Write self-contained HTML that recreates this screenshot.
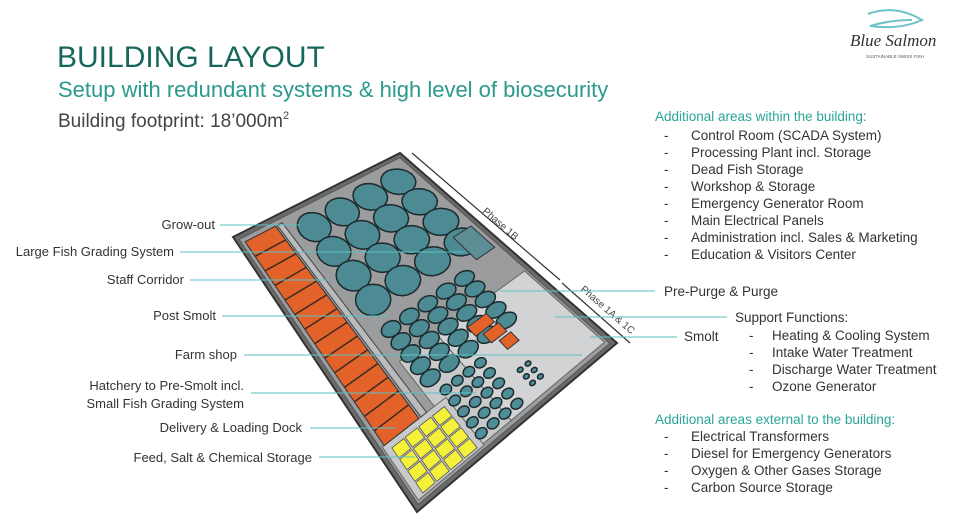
<!DOCTYPE html>
<html><head><meta charset="utf-8"><style>
body{margin:0;background:#fff;}
#w{position:relative;width:960px;height:520px;overflow:hidden;font-family:"Liberation Sans",sans-serif;}
svg{position:absolute;left:0;top:0}
</style></head><body><div id="w">
<svg id="s" width="960" height="520" viewBox="0 0 960 520" font-family="Liberation Sans, sans-serif">
<text x="57" y="67" font-size="30" fill="#17675c">BUILDING LAYOUT</text>
<text x="58" y="97" font-size="22" fill="#2a9a8a">Setup with redundant systems &amp; high level of biosecurity</text>
<text x="58" y="127" font-size="19" fill="#444">Building footprint: 18’000m<tspan font-size="11" dy="-8">2</tspan></text>
<g id="b"></g>
<g stroke="#333" stroke-width="1.2">
<line x1="412" y1="153" x2="560" y2="280"/><line x1="562" y1="283" x2="630" y2="343"/>
</g>
<text transform="translate(482,212) rotate(41)" font-size="10" fill="#444">Phase 1B</text>
<text transform="translate(580,290) rotate(41)" font-size="10" fill="#444">Phase 1A &amp; 1C</text>
<g stroke="#5bc2c6" stroke-width="1">
<line x1="220" y1="225" x2="300" y2="225"/><line x1="180" y1="252" x2="465" y2="252"/>
<line x1="190" y1="280" x2="330" y2="280"/><line x1="222" y1="316" x2="388" y2="316"/>
<line x1="244" y1="355" x2="582" y2="355"/><line x1="251" y1="393" x2="476" y2="393"/>
<line x1="310" y1="428" x2="396" y2="428"/><line x1="319" y1="457" x2="415" y2="457"/>
<line x1="500" y1="291" x2="655" y2="291"/><line x1="555" y1="317" x2="727" y2="317"/>
<line x1="590" y1="337" x2="677" y2="337"/>
</g>
<g font-size="13" fill="#333" text-anchor="end">
<text x="215" y="229">Grow-out</text><text x="174" y="256">Large Fish Grading System</text>
<text x="184" y="284">Staff Corridor</text><text x="216" y="320">Post Smolt</text>
<text x="237" y="359">Farm shop</text><text x="244" y="390">Hatchery to Pre-Smolt incl.</text>
<text x="244" y="408">Small Fish Grading System</text><text x="302" y="432">Delivery &amp; Loading Dock</text>
<text x="312" y="462">Feed, Salt &amp; Chemical Storage</text>
</g>
<g font-size="13.5" fill="#333">
<text x="655" y="121" fill="#2aa597">Additional areas within the building:</text>
<text x="664" y="140">-</text><text x="691" y="140">Control Room (SCADA System)</text>
<text x="664" y="157">-</text><text x="691" y="157">Processing Plant incl. Storage</text>
<text x="664" y="174">-</text><text x="691" y="174">Dead Fish Storage</text>
<text x="664" y="191">-</text><text x="691" y="191">Workshop &amp; Storage</text>
<text x="664" y="208">-</text><text x="691" y="208">Emergency Generator Room</text>
<text x="664" y="225">-</text><text x="691" y="225">Main Electrical Panels</text>
<text x="664" y="242">-</text><text x="691" y="242">Administration incl. Sales &amp; Marketing</text>
<text x="664" y="259">-</text><text x="691" y="259">Education &amp; Visitors Center</text>
<text x="664" y="296">Pre-Purge &amp; Purge</text>
<text x="735" y="322">Support Functions:</text>
<text x="684" y="341">Smolt</text>
<text x="749" y="340">-</text><text x="772" y="340">Heating &amp; Cooling System</text>
<text x="749" y="357">-</text><text x="772" y="357">Intake Water Treatment</text>
<text x="749" y="374">-</text><text x="772" y="374">Discharge Water Treatment</text>
<text x="749" y="391">-</text><text x="772" y="391">Ozone Generator</text>
<text x="655" y="424" fill="#2aa597">Additional areas external to the building:</text>
<text x="664" y="441">-</text><text x="691" y="441">Electrical Transformers</text>
<text x="664" y="458">-</text><text x="691" y="458">Diesel for Emergency Generators</text>
<text x="664" y="475">-</text><text x="691" y="475">Oxygen &amp; Other Gases Storage</text>
<text x="664" y="492">-</text><text x="691" y="492">Carbon Source Storage</text>
</g>
<path d="M868 14 Q895 4 922 20 Q900 30 870 26 Q890 20 912 20" fill="none" stroke="#6fc3c8" stroke-width="2"/>
<text x="850" y="46" font-family="Liberation Serif, serif" font-style="italic" font-size="17" fill="#333">Blue Salmon</text>
<text x="866" y="58" font-size="4.5" fill="#555">SUSTAINABLE SWISS FISH</text>
</svg>
<script>
var L=[233,237],B=[417,512],R=[617,343],T=[400,153];
function P(u,v){var a=(1-u)*(1-v),b=u*(1-v),c=u*v,d=(1-u)*v;return[a*L[0]+b*B[0]+c*R[0]+d*T[0],a*L[1]+b*B[1]+c*R[1]+d*T[1]];}
var g=document.getElementById('b'),h='';
function poly(pts,f,s,w){h+='<polygon points="'+pts.map(function(p){return p[0].toFixed(1)+','+p[1].toFixed(1)}).join(' ')+'" fill="'+f+'" stroke="'+(s||'none')+'" stroke-width="'+(w||1)+'"/>';}
function rect(u0,u1,v0,v1,f,s,w){poly([P(u0,v0),P(u1,v0),P(u1,v1),P(u0,v1)],f,s,w);}
function circ(u,v,ru,rv,f){var p=[];for(var i=0;i<20;i++){var a=i/20*Math.PI*2;p.push(P(u+ru*Math.cos(a),v+rv*Math.sin(a)));}poly(p,f,'#1c2a2c',1.5);}
rect(0,1,0,1,'#6a6a6a','#333',2);
rect(0.015,0.985,0.02,0.98,'#9a9c9e','#555',1);
rect(0.6,0.97,0.5,0.97,'#d2d3d4','#666',1);
rect(0.6,0.97,0.3,0.5,'#c8c9ca','#666',1);
rect(0.78,0.975,0.03,0.36,'#c8c9ca','#666',1);
rect(0.03,0.78,0.04,0.22,'#e2622a','#333',1);
for(var i=1;i<14;i++){var u=0.03+i*0.75/14;poly([P(u,0.04),P(u,0.22)],'none','#3a2a20',1.5);}
rect(0.03,0.78,0.23,0.26,'#b9bbbc','#444',1);
for(var i=0;i<4;i++)for(var j=0;j<4;j++){var u0=0.8+i*0.043,v0=0.06+j*0.07;rect(u0,u0+0.038,v0,v0+0.062,'#f5f03a','#555',0.8);}
for(var i=0;i<4;i++)for(var j=0;j<4;j++){circ(0.09+i*0.1,0.38+j*0.165,0.052,0.08,'#4c8a94');}
rect(0.36,0.47,0.86,0.96,'#5d8e96','#333',1);
for(var i=0;i<5;i++)for(var j=0;j<5;j++){circ(0.5+i*0.05,0.36+j*0.1,0.025,0.046,'#4c8a94');}
for(var i=0;i<5;i++)for(var j=0;j<4;j++){circ(0.76+i*0.045,0.38+j*0.06,0.016,0.025,'#4f8e98');}
for(var i=0;i<3;i++)for(var j=0;j<2;j++){circ(0.86+i*0.03,0.66+j*0.04,0.008,0.012,'#4f8e98');}
rect(0.64,0.68,0.62,0.72,'#e2622a','#333',1);rect(0.69,0.73,0.65,0.73,'#e2622a','#333',1);rect(0.74,0.78,0.68,0.74,'#e2622a','#333',1);
g.innerHTML=h;
</script>
</div></body></html>
